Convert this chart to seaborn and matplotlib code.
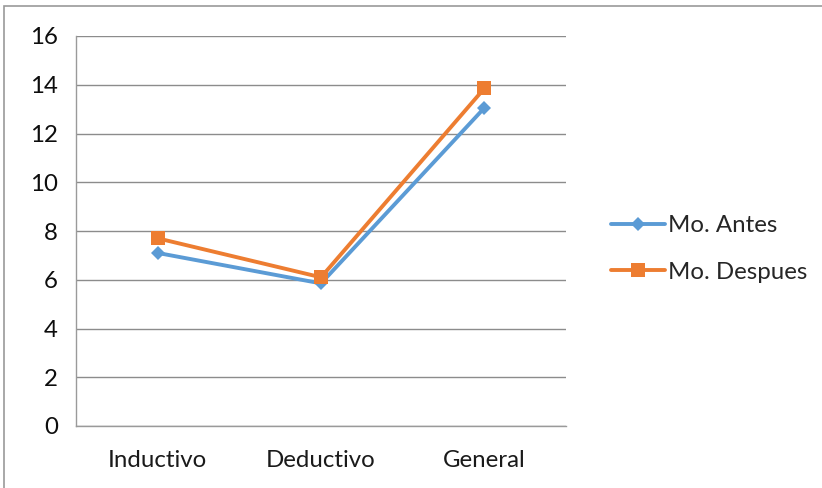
import matplotlib
matplotlib.use("Agg")
import matplotlib.pyplot as plt
from matplotlib.patches import Rectangle
from matplotlib.lines import Line2D
import seaborn as sns
import pandas as pd

categories = ["Inductivo", "Deductivo", "General"]
antes = [7.1, 5.85, 13.05]
despues = [7.7, 6.1, 13.85]
series_names = ["Mo. Antes", "Mo. Despues"]
y_ticks = [0, 2, 4, 6, 8, 10, 12, 14, 16]

sns.set_theme(style="white")
plt.rcParams["font.family"] = ["Lato", "DejaVu Sans"]

df = pd.DataFrame({
    "pos": list(range(len(categories))) * 2,
    "value": antes + despues,
    "serie": [series_names[0]] * 3 + [series_names[1]] * 3,
})

fig = plt.figure(figsize=(8.22, 4.88), dpi=100)
ax = fig.add_axes([76 / 822, 1 - 426 / 488, (566 - 76) / 822, (426 - 36) / 488])

palette = {series_names[0]: "#5B9BD5", series_names[1]: "#ED7D31"}
markers = {series_names[0]: "D", series_names[1]: "s"}
sizes = [7.5, 10]
sns.lineplot(data=df, x="pos", y="value", hue="serie", style="serie",
             palette=palette, markers=markers, dashes=False, linewidth=2.8,
             markersize=9, markeredgewidth=0, ax=ax, legend=False)
# diamond a bit smaller than the square
for line, ms in zip(ax.lines, sizes):
    line.set_markersize(ms)

fs = 17.3
ax.set_xlim(-0.5, 2.5)
ax.set_ylim(0, 16)
ax.set_yticks(y_ticks)
ax.set_yticklabels([str(t) for t in y_ticks])
ax.set_xticks(range(len(categories)))
ax.set_xticklabels(categories)
ax.set_xticks([-0.5, 0.5, 1.5, 2.5], minor=True)
ax.tick_params(axis="x", which="major", length=0, pad=17, labelsize=fs, colors="#1a1a1a")
ax.tick_params(axis="x", which="minor", length=7, width=1, color="#9a9a9a", direction="out")
ax.tick_params(axis="y", length=7, width=1, color="#9a9a9a", direction="out",
               labelsize=fs, labelcolor="#0d0d0d", pad=6)
ax.set_xlabel("")
ax.set_ylabel("")

ax.yaxis.grid(True, color="#8c8c8c", linewidth=1)
ax.set_axisbelow(True)
for side in ["top", "right"]:
    ax.spines[side].set_visible(False)
for side in ["left", "bottom"]:
    ax.spines[side].set_color("#9a9a9a")
    ax.spines[side].set_linewidth(1)

# legend to the right of the plot area
handles = [
    Line2D([], [], color=palette[n], marker=markers[n], linewidth=2.8,
           markersize=ms, markeredgewidth=0)
    for n, ms in zip(series_names, sizes)
]
fig.legend(handles, series_names, loc="center left",
           bbox_to_anchor=(611 / 822, 1 - 249 / 488), frameon=False,
           fontsize=fs, handlelength=2.25, handletextpad=0.12,
           labelspacing=1.05, borderaxespad=0, borderpad=0)

# chart area border
fig.patches.append(Rectangle((4 / 822, -0.05), 1.2, 1 - 6 / 488 + 0.05,
                             transform=fig.transFigure, fill=False,
                             edgecolor="#9a9a9a", linewidth=1.2))

fig.savefig("out.png", dpi=100)
